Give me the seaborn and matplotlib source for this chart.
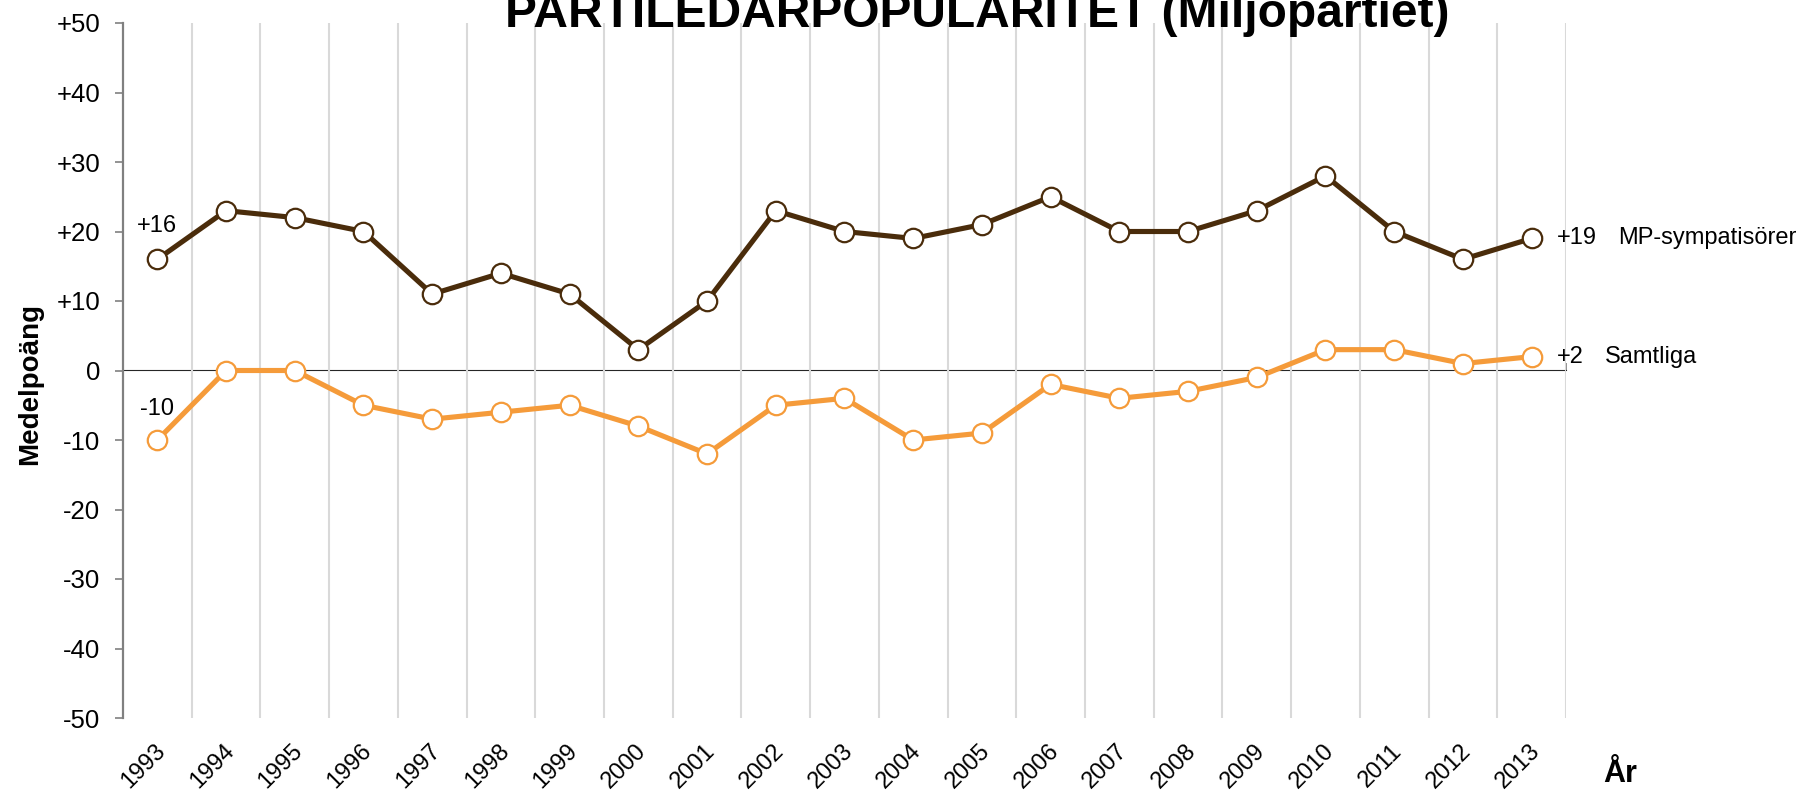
import matplotlib
matplotlib.use("Agg")
import matplotlib.pyplot as plt
import matplotlib.transforms as mtransforms
from matplotlib.ticker import FuncFormatter, FixedLocator
import seaborn as sns
import pandas as pd

years = list(range(1993, 2014))
mp_sympatisorer = [16, 23, 22, 20, 11, 14, 11, 3, 10, 23, 20, 19, 21, 25, 20, 20, 23, 28, 20, 16, 19]
samtliga = [-10, 0, 0, -5, -7, -6, -5, -8, -12, -5, -4, -10, -9, -2, -4, -3, -1, 3, 3, 1, 2]
series_names = ["MP-sympatisörer", "Samtliga"]
yticks = list(range(-50, 51, 10))

BROWN = "#4A2C0B"
ORANGE = "#F59B3A"
GRID = "#D9D9D9"
AXIS = "#808080"

sns.set_style("white")
plt.rcParams["font.family"] = ["Liberation Sans", "DejaVu Sans"]
plt.rcParams["text.color"] = "black"
plt.rcParams["xtick.color"] = "black"
plt.rcParams["ytick.color"] = "black"

W, H = 1803, 790
fig = plt.figure(figsize=(W / 100, H / 100), dpi=100)
ax = fig.add_axes([123 / W, 1 - 718 / H, (1566 - 123) / W, (718 - 23) / H])

df = pd.DataFrame({"year": years, "mp": mp_sympatisorer, "all": samtliga})

common = dict(marker="o", markersize=14, markerfacecolor="white",
              markeredgewidth=1.6, linewidth=3.7, zorder=3)
sns.lineplot(data=df, x="year", y="mp", ax=ax, color=BROWN, markeredgecolor=BROWN, **common)
sns.lineplot(data=df, x="year", y="all", ax=ax, color=ORANGE, markeredgecolor=ORANGE, **common)

ax.set_xlim(years[0] - 0.5, years[-1] + 0.5)
ax.set_ylim(yticks[0], yticks[-1])
ax.set_xlabel("")
ax.set_ylabel("")

for s in ["top", "right", "bottom"]:
    ax.spines[s].set_visible(False)
ax.spines["left"].set_color(AXIS)
ax.spines["left"].set_linewidth(1.6)

# y axis
ax.set_yticks(yticks)
ax.yaxis.set_major_formatter(FuncFormatter(lambda v, p: f"+{int(v)}" if v > 0 else f"{int(v)}"))
ax.tick_params(axis="y", direction="out", length=6, width=1.2, color=AXIS,
               labelsize=18.5, labelcolor="black", pad=10.5, left=True)

# x axis labels at categories
ax.set_xticks(years)
ax.set_xticklabels([str(y) for y in years])
ax.tick_params(axis="x", length=0, labelsize=17, labelcolor="black", pad=16, bottom=True)
offset = mtransforms.ScaledTranslation(-3 / 100, 0, fig.dpi_scale_trans)
for lbl in ax.get_xticklabels():
    lbl.set_rotation(45)
    lbl.set_ha("right")
    lbl.set_va("top")
    lbl.set_rotation_mode("anchor")
    lbl.set_transform(lbl.get_transform() + offset)

# vertical gridlines at category boundaries
bounds = [y + 0.5 for y in [years[0] - 1] + years]
ax.xaxis.set_minor_locator(FixedLocator(bounds[1:]))
ax.grid(False)
ax.grid(which="minor", axis="x", color=GRID, linewidth=1.5)
ax.tick_params(axis="x", which="minor", length=0)
ax.set_axisbelow(True)

# zero line with boundary ticks
sec = ax.secondary_xaxis(0.5)
sec.set_xticks(bounds)
sec.set_xticklabels([])
sec.spines["bottom"].set_color(AXIS)
sec.spines["bottom"].set_linewidth(1.6)
sec.tick_params(axis="x", direction="out", length=5, width=1.2, color=AXIS)

# annotations
fs = 17
ax.annotate(f"+{mp_sympatisorer[0]}", (years[0], mp_sympatisorer[0]), xytext=(0, 19.5),
            textcoords="offset points", ha="center", va="baseline", fontsize=fs)
ax.annotate(f"{samtliga[0]}", (years[0], samtliga[0]), xytext=(0, 18),
            textcoords="offset points", ha="center", va="baseline", fontsize=fs)
ax.annotate(f"+{mp_sympatisorer[-1]}", (years[-1], mp_sympatisorer[-1]), xytext=(18, 0),
            textcoords="offset points", ha="left", va="center", fontsize=fs, annotation_clip=False)
ax.annotate(series_names[0], (years[-1], mp_sympatisorer[-1]), xytext=(62, 0),
            textcoords="offset points", ha="left", va="center", fontsize=fs, annotation_clip=False)
ax.annotate(f"+{samtliga[-1]}", (years[-1], samtliga[-1]), xytext=(18, 0),
            textcoords="offset points", ha="left", va="center", fontsize=fs, annotation_clip=False)
ax.annotate(series_names[1], (years[-1], samtliga[-1]), xytext=(52.5, 0),
            textcoords="offset points", ha="left", va="center", fontsize=fs, annotation_clip=False)

# title and axis titles
fig.text(977 / W, 1 - 27 / H, "PARTILEDARPOPULARITET (Miljöpartiet)", ha="center",
         va="baseline", fontsize=34.5, fontweight="bold")
fig.text(30 / W, 1 - 384 / H, "Medelpoäng", rotation=90, ha="center", va="center",
         fontsize=20, fontweight="bold")
fig.text(1603 / W, 1 - 782 / H, "År", ha="left", va="baseline",
         fontsize=22, fontweight="bold")

fig.savefig("out.png", dpi=100, facecolor="white")
